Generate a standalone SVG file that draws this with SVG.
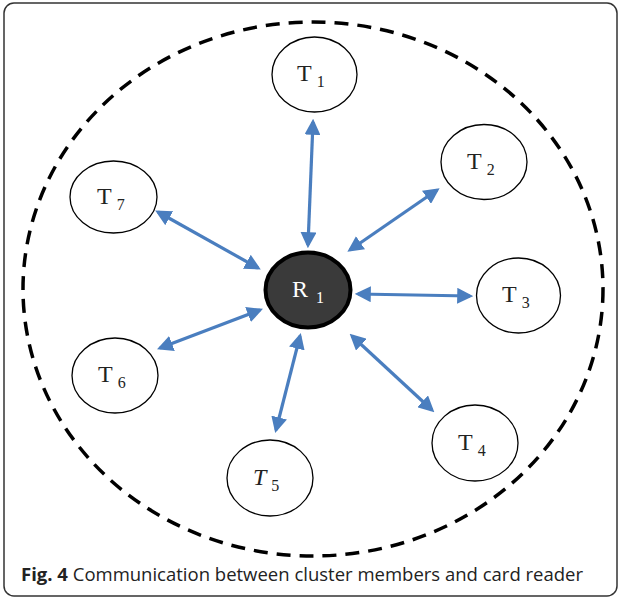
<svg xmlns="http://www.w3.org/2000/svg" width="622" height="600" viewBox="0 0 622 600">
<style>
.t{fill:#fff;stroke:#000;stroke-width:1.3}
.lbl{font-family:"Liberation Serif","DejaVu Serif",serif;font-size:24px;fill:#222}
.sub{font-size:16px}
.c{stroke:#4a7ebf;stroke-width:3.2;fill:none;marker-start:url(#ah);marker-end:url(#ah)}
.cap{font-family:"Open Sans","Liberation Sans",sans-serif;font-size:18.5px;fill:#222}
</style>
<defs>
<marker id="ah" viewBox="0 0 10 10" refX="8" refY="5" markerWidth="5" markerHeight="5" orient="auto-start-reverse" markerUnits="strokeWidth">
<path d="M0,0 L10,5 L0,10 z" fill="#4a7ebf"/>
</marker>
</defs>
<rect x="4" y="3" width="613" height="593" rx="10" fill="#fff" stroke="#333" stroke-width="1.5"/>
<ellipse cx="313" cy="289" rx="290" ry="267" fill="none" stroke="#000" stroke-width="3.5" stroke-dasharray="14,9"/>
<g id="connectors">
<line class="c" x1="313" y1="122" x2="308" y2="245"/>
<line class="c" x1="437" y1="190" x2="350" y2="250"/>
<line class="c" x1="470" y1="296" x2="358" y2="294"/>
<line class="c" x1="432" y1="410" x2="352" y2="336"/>
<line class="c" x1="276" y1="430" x2="300" y2="336"/>
<line class="c" x1="160" y1="348" x2="260" y2="310"/>
<line class="c" x1="158" y1="212" x2="258" y2="268"/>
</g>
<g id="T1"><ellipse class="t" cx="314.5" cy="74.5" rx="42.5" ry="37.5"/><text class="lbl" x="297" y="81">T<tspan class="sub" dx="5" dy="6">1</tspan></text></g>
<g id="T2"><ellipse class="t" cx="484" cy="162" rx="43" ry="37.5"/><text class="lbl" x="467" y="169">T<tspan class="sub" dx="5" dy="6">2</tspan></text></g>
<g id="T3"><ellipse class="t" cx="518.5" cy="295.5" rx="42" ry="37.5"/><text class="lbl" x="502" y="302">T<tspan class="sub" dx="5" dy="6">3</tspan></text></g>
<g id="T4"><ellipse class="t" cx="475" cy="443" rx="43" ry="38"/><text class="lbl" x="458" y="450">T<tspan class="sub" dx="5" dy="6">4</tspan></text></g>
<g id="T5"><ellipse class="t" cx="270" cy="478" rx="43" ry="38"/><text class="lbl" x="253" y="485" font-style="italic">T<tspan class="sub" dx="5" dy="6" font-style="normal">5</tspan></text></g>
<g id="T6"><ellipse class="t" cx="115" cy="375.5" rx="43" ry="37.5"/><text class="lbl" x="98" y="382">T<tspan class="sub" dx="5" dy="6">6</tspan></text></g>
<g id="T7"><ellipse class="t" cx="113.5" cy="197" rx="43.5" ry="36"/><text class="lbl" x="97" y="204">T<tspan class="sub" dx="5" dy="6">7</tspan></text></g>
<g id="R1"><ellipse cx="308" cy="290" rx="42.5" ry="37.5" fill="#3a3a3a" stroke="#000" stroke-width="4"/><text class="lbl" x="292" y="297" style="fill:#fff">R<tspan class="sub" dx="8" dy="6">1</tspan></text></g>
<text class="cap" x="21" y="581"><tspan font-weight="bold">Fig. 4</tspan> Communication between cluster members and card reader</text>
</svg>
